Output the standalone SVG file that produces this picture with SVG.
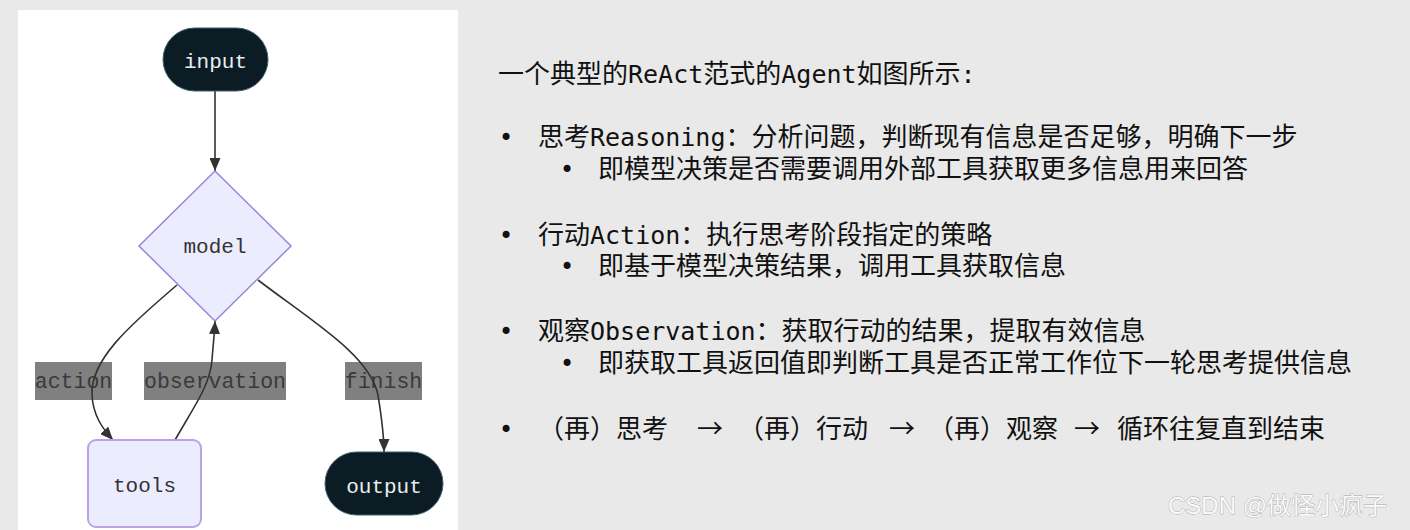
<svg xmlns="http://www.w3.org/2000/svg" width="1410" height="530" viewBox="0 0 1410 530">
<style>
.mono{font-family:"Liberation Mono","DejaVu Sans Mono",monospace;}
.ntext{font-size:21px;text-anchor:middle;}
.lbl{fill:#808080;}
.lbltext{font-size:21.5px;fill:#3a3a3a;text-anchor:middle;}
.edge{fill:none;stroke:#333;stroke-width:1.6;}
.txt{font-family:"Noto Sans CJK SC","Noto Sans",sans-serif;font-size:26px;fill:#111;}
.lat{font-family:"DejaVu Sans Mono",monospace;font-size:25px;}
.bul{font-family:"DejaVu Sans",sans-serif;font-size:24px;fill:#111;}
.wm{font-family:"Liberation Sans","Noto Sans CJK SC",sans-serif;font-size:24px;fill:#fafafa;stroke:#a8a8a8;stroke-width:0.8;paint-order:stroke;}
</style>
<defs>
<marker id="ah" viewBox="0 0 13 11" refX="13" refY="5.5" markerWidth="13" markerHeight="11" markerUnits="userSpaceOnUse" orient="auto">
<path d="M0,0 L13,5.5 L0,11 Z" fill="#333"/>
</marker>
</defs>
<rect x="0" y="0" width="1410" height="530" fill="#e9e9e9"/>
<rect x="18" y="10" width="440" height="520" fill="#ffffff"/>

<g id="labels" class="mono">
<rect class="lbl" x="35" y="362" width="77" height="38"/>
<text class="lbltext" x="73.5" y="388">action</text>
<rect class="lbl" x="144" y="362" width="142" height="38"/>
<text class="lbltext" x="215" y="388">observation</text>
<rect class="lbl" x="345" y="362" width="77" height="38"/>
<text class="lbltext" x="383.5" y="388">finish</text>
</g>

<g id="connectors">
<path class="edge" d="M215,91 L215,171" marker-end="url(#ah)"/>
<path class="edge" d="M177,285 C130,325 90,360 92,395 C93,415 102,428 113,440" marker-end="url(#ah)"/>
<path class="edge" d="M175,440 C195,405 210,385 212,360 C213,345 214.5,335 215,321" marker-end="url(#ah)"/>
<path class="edge" d="M258,280 C310,320 370,355 378,395 C382,420 384,435 384,452" marker-end="url(#ah)"/>
</g>

<g id="input">
<rect x="163" y="28" width="105" height="63" rx="31.5" fill="#0c1c24" stroke="#3d6070" stroke-width="1"/>
<text class="mono ntext" x="215.5" y="68" fill="#e6eef0">input</text>
</g>
<g id="model">
<polygon points="215,171 291,246 215,321 139,246" fill="#ececff" stroke="#9a84d8" stroke-width="1.5"/>
<text class="mono ntext" x="215" y="253" fill="#333">model</text>
</g>
<g id="tools">
<rect x="88" y="440" width="113" height="87" rx="8" fill="#ececff" stroke="#b9a3e3" stroke-width="2"/>
<text class="mono ntext" x="144.5" y="492" fill="#333">tools</text>
</g>
<g id="output">
<rect x="325" y="452" width="118" height="63" rx="31.5" fill="#0c1c24" stroke="#3d6070" stroke-width="1"/>
<text class="mono ntext" x="384" y="493" fill="#e6eef0">output</text>
</g>

<g id="notes">
<text class="txt" x="498" y="83">一个典型的<tspan class="lat">ReAct</tspan>范式的<tspan class="lat">Agent</tspan>如图所示<tspan class="lat">:</tspan></text>

<text class="bul" x="499" y="146">•</text>
<text class="txt" x="538" y="146">思考<tspan class="lat">Reasoning</tspan>：分析问题，判断现有信息是否足够，明确下一步</text>
<text class="bul" x="560" y="178">•</text>
<text class="txt" x="598" y="178">即模型决策是否需要调用外部工具获取更多信息用来回答</text>

<text class="bul" x="499" y="244">•</text>
<text class="txt" x="538" y="244">行动<tspan class="lat">Action</tspan>：执行思考阶段指定的策略</text>
<text class="bul" x="560" y="275">•</text>
<text class="txt" x="598" y="275">即基于模型决策结果，调用工具获取信息</text>

<text class="bul" x="499" y="340">•</text>
<text class="txt" x="538" y="340">观察<tspan class="lat">Observation</tspan>：获取行动的结果，提取有效信息</text>
<text class="bul" x="560" y="372">•</text>
<text class="txt" x="598" y="372">即获取工具返回值即判断工具是否正常工作位下一轮思考提供信息</text>

<text class="bul" x="499" y="438">•</text>
<text class="txt" x="538" y="438">（再）思考</text>
<text class="txt" x="697" y="438">→</text>
<text class="txt" x="738" y="438">（再）行动</text>
<text class="txt" x="889" y="438">→</text>
<text class="txt" x="928" y="438">（再）观察</text>
<text class="txt" x="1074" y="438">→</text>
<text class="txt" x="1117" y="438">循环往复直到结束</text>
</g>

<text class="wm" x="1168" y="514">CSDN @做怪小疯子</text>
</svg>
